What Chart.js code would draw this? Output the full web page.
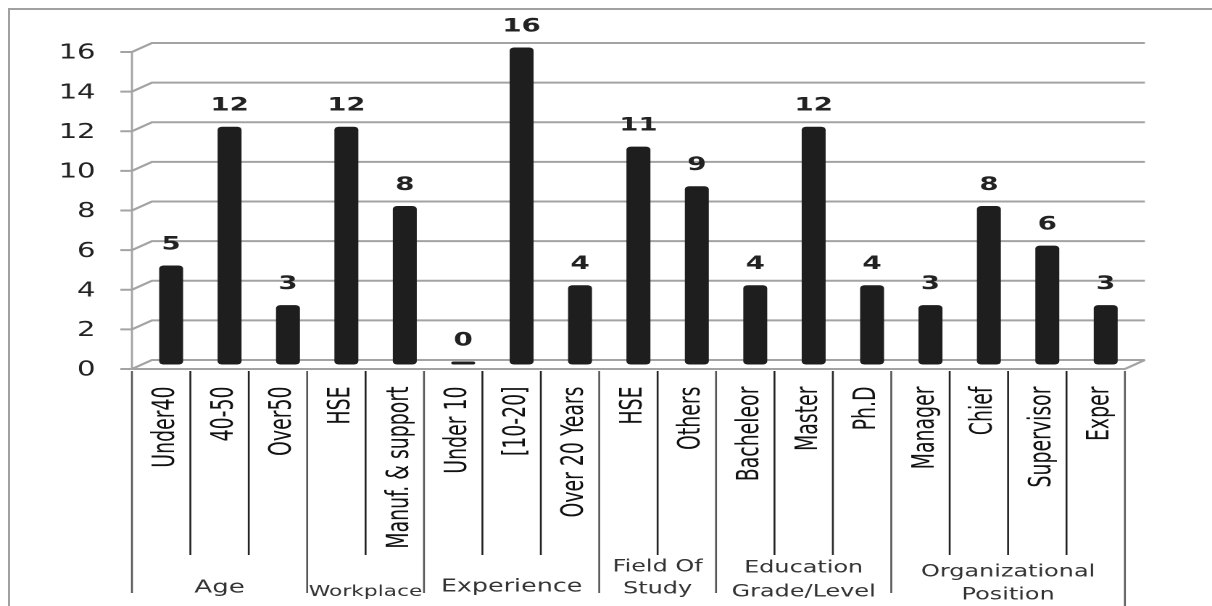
<!DOCTYPE html>
<html>
<head>
<meta charset="utf-8">
<script src="https://cdn.jsdelivr.net/npm/chart.js@4.4.1/dist/chart.umd.min.js"></script>
<style>
  body { margin: 0; background: #fff; overflow: hidden; }
  #frame { position: absolute; left: 8px; top: 8px; right: -10px; bottom: -10px;
           border-left: 2px solid #a0a0a0; border-top: 2px solid #a0a0a0; }
  /* the source picture is stretched sideways, so the chart is drawn narrow and widened */
  #wrap { position: absolute; left: 0; top: 0; width: 836px; height: 606px;
          transform-origin: 0 0; transform: scaleX(1.4498); }
</style>
</head>
<body>
<div id="frame"></div>
<div id="wrap"><canvas id="chart"></canvas></div>
<script>
var categories = ["Under40", "40-50", "Over50", "HSE", "Manuf. & support", "Under 10", "[10-20]",
                  "Over 20 Years", "HSE", "Others", "Bacheleor", "Master", "Ph.D", "Manager",
                  "Chief", "Supervisor", "Exper"];
var counts = [5, 12, 3, 12, 8, 0, 16, 4, 11, 9, 4, 12, 4, 3, 8, 6, 3];
var groupNames = [["Age"], ["Workplace"], ["Experience"], ["Field Of", "Study"],
                  ["Education", "Grade/Level"], ["Organizational", "Position"]];
var groupSizes = [3, 2, 3, 2, 3, 4];

// font size and baselines of each group caption
var groupStyle = [
    {size: 18, ys: [588]},
    {size: 15, ys: [592]},
    {size: 17.5, ys: [587]},
    {size: 16.5, ys: [567, 589]},
    {size: 16.5, ys: [568, 592]},
    {size: 16.5, ys: [572, 595]}
];

const DX = 6.9, DY = 4.5;   // half depth of the 3d box
const darkText = "#222";

const box3d = {
    id: "box3d",
    beforeDatasetsDraw(chart) {
        const {ctx, chartArea: a, scales: {x, y}} = chart;
        ctx.save();
        ctx.strokeStyle = "#a3a3a3";
        ctx.lineWidth = 2;
        y.ticks.forEach(t => {
            const py = y.getPixelForValue(t.value);
            ctx.beginPath();
            ctx.moveTo(a.left - DX - 8, py + DY);
            ctx.lineTo(a.left - DX, py + DY);
            ctx.lineTo(a.left + DX, py - DY);
            ctx.lineTo(a.right + DX, py - DY);
            ctx.stroke();
        });
        const y0 = y.getPixelForValue(0), yTop = y.getPixelForValue(y.max);
        ctx.beginPath();
        ctx.moveTo(a.left - DX, y0 + DY);
        ctx.lineTo(a.right - DX, y0 + DY);
        ctx.lineTo(a.right + DX, y0 - DY);
        ctx.stroke();
        ctx.lineWidth = 1.4;
        ctx.beginPath();
        ctx.moveTo(a.left - DX, yTop + DY);
        ctx.lineTo(a.left - DX, y0 + DY);
        ctx.stroke();
        ctx.restore();
    },
    afterDatasetsDraw(chart) {
        const {ctx} = chart;
        ctx.save();
        ctx.font = "bold 19px 'DejaVu Sans'";
        ctx.fillStyle = darkText;
        ctx.textAlign = "center";
        ctx.textBaseline = "middle";
        chart.getDatasetMeta(0).data.forEach((bar, i) => {
            ctx.fillText(String(counts[i]), bar.x, bar.y - 21);
        });
        ctx.restore();
    },
    afterDraw(chart) {
        const {ctx, chartArea: a, scales: {x, y}} = chart;
        const half = (x.getPixelForValue(1) - x.getPixelForValue(0)) / 2;
        const top = y.getPixelForValue(0) + DY + 2;
        var bounds = [0];
        groupSizes.forEach(n => bounds.push(bounds[bounds.length - 1] + n));
        ctx.save();
        for (let i = 0; i <= categories.length; i++) {
            const px = x.getPixelForValue(i) - half - DX;
            let bottom = 555, col = "#222";
            if (bounds.includes(i)) { bottom = 593; col = "#555"; }
            if (i == categories.length) bottom = 606;
            ctx.strokeStyle = col;
            ctx.lineWidth = 1.3;
            ctx.beginPath();
            ctx.moveTo(px, top);
            ctx.lineTo(px, bottom);
            ctx.stroke();
        }
        ctx.fillStyle = "#333";
        ctx.textAlign = "center";
        ctx.textBaseline = "middle";
        groupNames.forEach((lines, g) => {
            const cx = (x.getPixelForValue(bounds[g]) + x.getPixelForValue(bounds[g + 1] - 1)) / 2 - DX;
            ctx.font = groupStyle[g].size + "px 'DejaVu Sans'";
            lines.forEach((txt, k) => ctx.fillText(txt, cx, groupStyle[g].ys[k]));
        });
        ctx.restore();
    }
};

new Chart("chart", {
    type: "bar",
    data: {
        labels: categories,
        datasets: [{
            data: counts,
            backgroundColor: "#1e1e1e",
            borderRadius: 3,
            borderSkipped: false,
            minBarLength: 3,
            barPercentage: 0.41,
            categoryPercentage: 1
        }]
    },
    options: {
        responsive: true,
        maintainAspectRatio: false,
        devicePixelRatio: 2,
        animation: false,
        layout: {padding: {left: 0, right: 53.2, top: 47.5, bottom: 0}},
        plugins: {legend: {display: false}, tooltip: {enabled: false}},
        scales: {
            x: {
                grid: {display: false, drawTicks: false},
                border: {display: false},
                ticks: {
                    autoSkip: false, maxRotation: 90, minRotation: 90,
                    padding: 22, labelOffset: -3.4, color: "#111",
                    font: {family: "'DejaVu Sans Condensed', 'Liberation Sans Narrow', sans-serif", size: 21}
                },
                afterFit: s => { s.height = 241.5; }
            },
            y: {
                min: 0, max: 16,
                grid: {display: false, drawTicks: false},
                border: {display: false},
                ticks: {
                    stepSize: 2, padding: 32, labelOffset: 6, color: darkText,
                    font: {family: "'DejaVu Sans'", size: 20}
                },
                afterFit: s => { s.width = 97.9; }
            }
        }
    },
    plugins: [box3d]
});
</script>
</body>
</html>
